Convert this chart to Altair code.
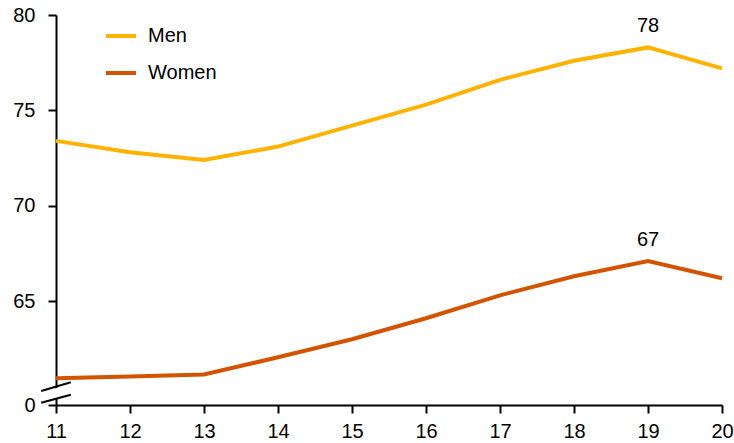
import altair as alt
import pandas as pd

years = [11, 12, 13, 14, 15, 16, 17, 18, 19, 20]
men = [73.4, 72.8, 72.4, 73.1, 74.2, 75.3, 76.6, 77.6, 78.3, 77.2]
women = [60.95, 61.05, 61.15, 62.05, 63.0, 64.1, 65.3, 66.3, 67.1, 66.2]
series = ["Men", "Women"]
colors = ["#FFB300", "#D35400"]
y_ticks = [59.55, 65, 70, 75, 80]
x_ticks = years

rows = []
for i, yr in enumerate(years):
    rows.append({"year": yr, "value": men[i], "series": "Men"})
    rows.append({"year": yr, "value": women[i], "series": "Women"})
df = pd.DataFrame(rows)

lab = df[df["year"] == 19].copy()
lab["txt"] = lab["value"].round(0).astype(int).astype(str)

# axis break marks (in data units)
brk = pd.DataFrame({
    "x": [10.8, 10.8],
    "x2": [11.2, 11.2],
    "y": [60.28, 59.67],
    "y2": [60.74, 60.09],
})
gap = pd.DataFrame({"x": [10.92], "x2": [11.08], "y": [60.0], "y2": [60.33]})

xscale = alt.Scale(domain=[11, 20], nice=False, zero=False)
yscale = alt.Scale(domain=[59.55, 80], nice=False, zero=False)

FONT = "Liberation Sans"
FS = 20

base = alt.Chart(df)

lines = base.mark_line(strokeWidth=4).encode(
    x=alt.X("year:Q", scale=xscale, title=None,
            axis=alt.Axis(values=x_ticks, format="d", labelFontSize=FS, labelFont=FONT,
                          labelColor="black", domainColor="black", tickColor="black",
                          domainWidth=2, tickWidth=2, tickSize=8, labelPadding=8,
                          grid=False, labelFlush=False)),
    y=alt.Y("value:Q", scale=yscale, title=None,
            axis=alt.Axis(values=y_ticks, labelFontSize=FS, labelFont=FONT,
                          labelColor="black", domainColor="black", tickColor="black",
                          domainWidth=2, tickWidth=2, tickSize=8, labelPadding=13,
                          grid=False,
                          labelExpr="datum.value < 60 ? '0' : format(datum.value, 'd')")),
    color=alt.Color("series:N", scale=alt.Scale(domain=series, range=colors), title=None,
                    legend=alt.Legend(orient="none", legendX=48, legendY=4,
                                      symbolType="stroke", symbolStrokeWidth=4,
                                      symbolSize=900, labelFontSize=FS, labelFont=FONT,
                                      labelColor="black", rowPadding=10, labelOffset=10)),
)

texts = alt.Chart(lab).mark_text(fontSize=FS, font=FONT, color="black", dy=-15,
                                 baseline="alphabetic").encode(
    x=alt.X("year:Q", scale=xscale),
    y=alt.Y("value:Q", scale=yscale),
    text="txt:N",
)

gapm = alt.Chart(gap).mark_rule(color="white", strokeWidth=9).encode(
    x=alt.X("x:Q", scale=xscale), x2="x2:Q",
    y=alt.Y("y:Q", scale=yscale), y2="y2:Q",
)

brkm = alt.Chart(brk).mark_rule(color="black", strokeWidth=2).encode(
    x=alt.X("x:Q", scale=xscale), x2="x2:Q",
    y=alt.Y("y:Q", scale=yscale), y2="y2:Q",
)

chart = alt.layer(gapm, brkm, lines, texts).properties(
    width=666, height=390,
    autosize=alt.AutoSizeParams(type="none"),
    padding={"left": 56, "top": 15, "right": 12, "bottom": 38},
    background="white",
).configure_view(stroke=None)

chart.save("out.html", embed_options={"renderer": "svg", "actions": False})
